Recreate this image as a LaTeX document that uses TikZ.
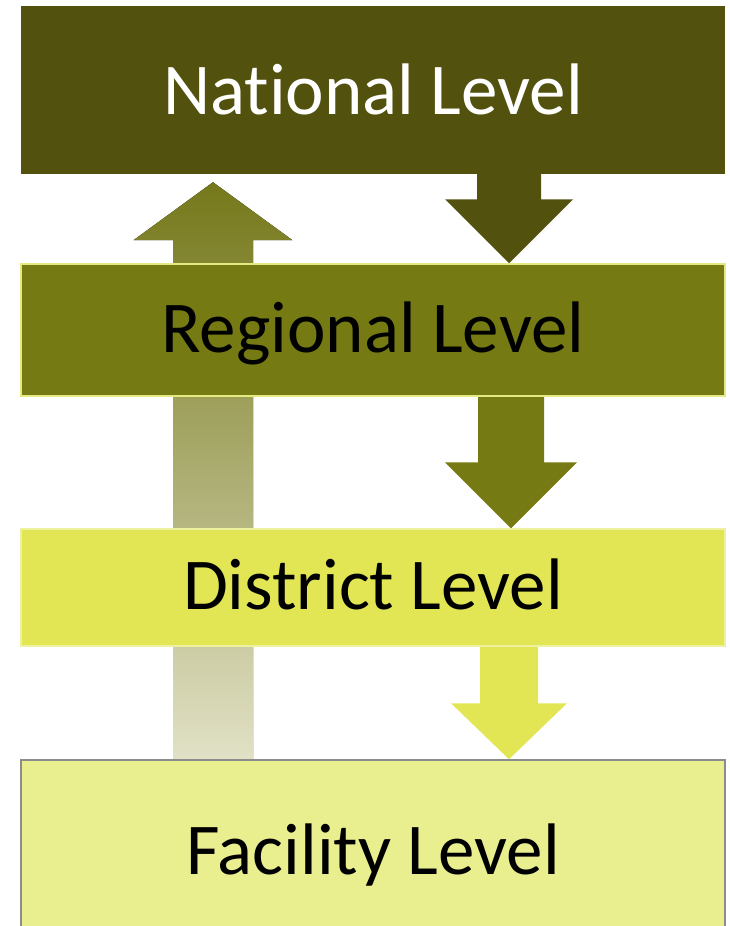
\documentclass[tikz,border=0pt]{standalone}
\usepackage{fontspec}
\setmainfont{Carlito}[Ligatures=NoCommon]
\usetikzlibrary{calc}
\usetikzlibrary{math}
\usetikzlibrary{backgrounds}

\definecolor{nationalgreen}{RGB}{82,82,14}
\definecolor{regionalgreen}{RGB}{118,122,18}
\definecolor{regionalline}{RGB}{228,233,130}
\definecolor{districtyellow}{RGB}{226,230,84}
\definecolor{districtline}{RGB}{238,241,160}
\definecolor{facilityyellow}{RGB}{233,238,142}
\definecolor{facilityline}{RGB}{140,140,140}
\definecolor{uptop}{RGB}{117,120,26}
\definecolor{upbottom}{RGB}{225,225,198}

\tikzset{
    levelbox/.style={rectangle, inner sep=0pt, minimum width=704pt,
        text depth=0pt, font=\fontsize{73}{80}\selectfont},
}

% block arrow: style, start, tip, half shaft, half head, head length
\newcommand{\BlockArrow}[6]{%
    \fill[#1] ($(#2)+({-(#4)},0)$) -- ($(#3)+({-(#4)},{-(#6)})$)
        -- ($(#3)+({-(#5)},{-(#6)})$) -- (#3)
        -- ($(#3)+(#5,{-(#6)})$) -- ($(#3)+(#4,{-(#6)})$)
        -- ($(#2)+(#4,0)$) -- cycle;
}

\begin{document}
\begin{tikzpicture}[x=1pt, y=-1pt]

% Position settings
\tikzmath{
    \MidX = 373;
    \DownShift = 136;
    \UpShift = -160;
}

\useasboundingbox (0,0) rectangle (730,926);

% Draws levels
\node[levelbox, fill=nationalgreen, text=white, minimum height=168pt, text height=48pt]
    (nat) at (\MidX,90) {National Level};
\node[levelbox, fill=regionalgreen, draw=regionalline, line width=1.5pt, minimum height=132pt, text height=44pt]
    (reg) at (\MidX,330) {Regional Level};
\node[levelbox, fill=districtyellow, draw=districtline, line width=1.5pt, minimum height=117pt, text height=43pt]
    (dis) at (\MidX,587.5) {District Level};
\node[levelbox, fill=facilityyellow, draw=facilityline, line width=1.5pt, minimum height=180pt, text height=48pt]
    (fac) at (\MidX,850) {Facility Level};

% Arrow ends
\coordinate (natout) at ($(nat.south)+(\DownShift,0)$);
\coordinate (regin) at ($(reg.north)+(\DownShift,0)$);
\coordinate (regout) at ($(reg.south)+(\DownShift+2,0)$);
\coordinate (disin) at ($(dis.north)+(\DownShift+2,0)$);
\coordinate (disout) at ($(dis.south)+(\DownShift,0)$);
\coordinate (facin) at ($(fac.north)+(\DownShift,0)$);
\coordinate (facout) at ($(fac.north)+(\UpShift,0)$);
\coordinate (uptip) at ($(nat.south)+(\UpShift,8)$);

% Draws arrows behind the levels
\begin{scope}[on background layer]
    \BlockArrow{top color=uptop, bottom color=upbottom}{facout}{uptip}{40}{79.5}{-58}
    \BlockArrow{nationalgreen}{natout}{regin}{32}{64}{64}
    \BlockArrow{regionalgreen}{regout}{disin}{33}{66}{66}
    \BlockArrow{districtyellow}{disout}{facin}{29}{58}{56}
\end{scope}

\end{tikzpicture}
\end{document}
